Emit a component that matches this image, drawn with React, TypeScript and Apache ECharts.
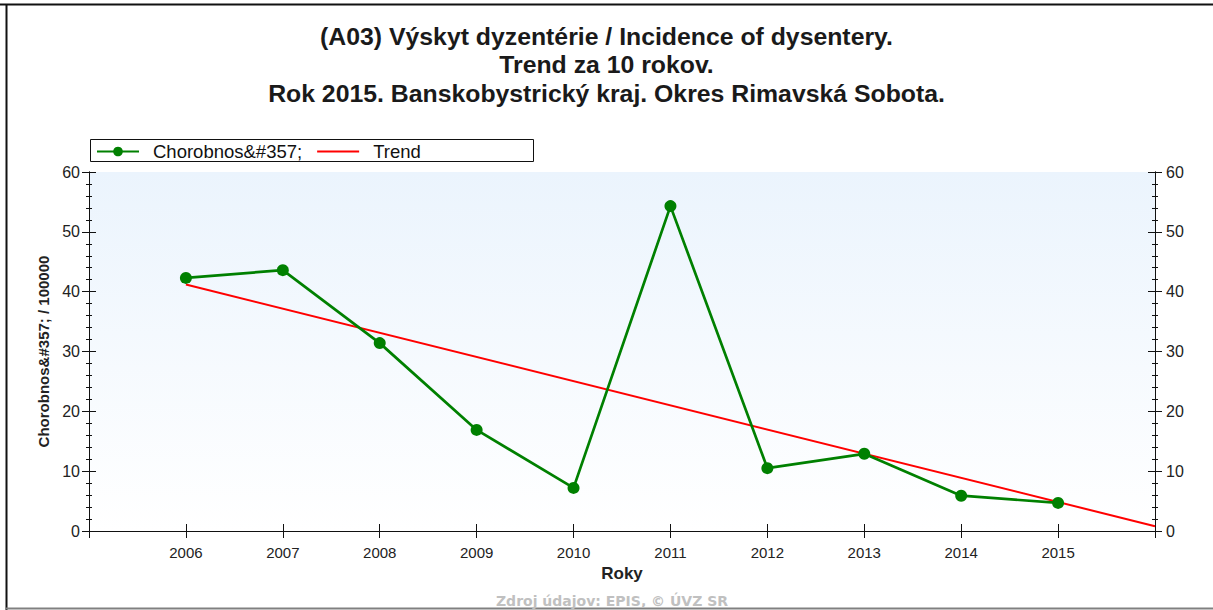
import React, { useEffect, useRef } from "react";
import * as echarts from "echarts";

const years = [2006, 2007, 2008, 2009, 2010, 2011, 2012, 2013, 2014, 2015];
const incidence = [42.3, 43.6, 31.4, 16.9, 7.2, 54.3, 10.5, 12.9, 5.9, 4.7];
const trendYears = [2006, 2016];
const trendValues = [41.2, 0.8];
const titleLines = [
  "(A03) Výskyt dyzentérie / Incidence of dysentery.",
  "Trend za 10 rokov.",
  "Rok 2015. Banskobystrický kraj. Okres Rimavská Sobota.",
];
const seriesName = "Chorobnos&#357;";
const trendName = "Trend";
const yAxisName = "Chorobnos&#357; / 100000";
const xAxisName = "Roky";
const footer = "Zdroj údajov: EPIS, © ÚVZ SR";

const FONT = "'Liberation Sans', Arial, sans-serif";

export default function App() {
  const ref = useRef<HTMLDivElement>(null);
  useEffect(() => {
    document.body.style.margin = "0";
    if (!ref.current) return;
    const chart = echarts.init(ref.current, null, { renderer: "svg" });
    const axisLine = { show: true, lineStyle: { color: "#111", width: 1 } };
    const xBase = {
      type: "value" as const,
      min: 2005,
      max: 2016,
      interval: 1,
      gridIndex: 0,
      splitLine: { show: false },
      axisLine,
    };
    const yBase = {
      type: "value" as const,
      min: 0,
      max: 60,
      interval: 10,
      splitLine: { show: false },
      minorSplitLine: { show: false },
      axisLine,
    };
    const lbl = { color: "#222", fontSize: 15, fontFamily: FONT };
    chart.setOption({
      animation: false,
      backgroundColor: "#ffffff",
      title: {
        text: titleLines.join("\n"),
        left: "center",
        top: 17,
        textStyle: {
          fontFamily: FONT,
          fontSize: 24.8,
          fontWeight: "bold",
          color: "#1a1a1a",
          lineHeight: 28.5,
        },
      },
      legend: {
        data: [
          { name: seriesName },
          { name: trendName, itemStyle: { color: "rgba(0,0,0,0)", borderWidth: 0 } },
        ],
        left: 96,
        top: 142,
        padding: 0,
        itemWidth: 42,
        itemHeight: 12,
        itemGap: 14,
        textStyle: { fontFamily: FONT, fontSize: 18.5, color: "#111", padding: [0, 0, 0, 9] },
      },
      grid: {
        left: 89,
        right: 58,
        top: 172,
        bottom: 79,
        show: true,
        borderWidth: 0,
        backgroundColor: {
          type: "linear",
          x: 0,
          y: 0,
          x2: 0,
          y2: 1,
          colorStops: [
            { offset: 0, color: "#ebf4fd" },
            { offset: 1, color: "#ffffff" },
          ],
        },
      },
      xAxis: [
        {
          ...xBase,
          position: "bottom",
          axisTick: { show: true, inside: false, length: 7, lineStyle: { color: "#111" } },
          axisLabel: {
            ...lbl,
            margin: 14,
            formatter: (v: number) => (years.indexOf(v) >= 0 ? String(v) : ""),
          },
          name: xAxisName,
          nameLocation: "middle",
          nameGap: 34,
          nameTextStyle: { fontFamily: FONT, fontSize: 17, fontWeight: "bold", color: "#222" },
        },
        {
          ...xBase,
          position: "bottom",
          axisTick: { show: true, inside: true, length: 7, lineStyle: { color: "#111" } },
          axisLabel: { show: false },
        },
        {
          ...xBase,
          position: "top",
          axisTick: { show: true, inside: true, length: 7, lineStyle: { color: "#111" } },
          axisLabel: { show: false },
        },
      ],
      yAxis: [
        {
          ...yBase,
          position: "left",
          axisTick: { show: true, inside: false, length: 7, lineStyle: { color: "#111" } },
          minorTick: { show: true, splitNumber: 5, length: 3, lineStyle: { color: "#111" } },
          axisLabel: { ...lbl, fontSize: 16, margin: 9 },
          name: yAxisName,
          nameLocation: "middle",
          nameGap: 37,
          nameRotate: 90,
          nameTextStyle: { fontFamily: FONT, fontSize: 15, fontWeight: "bold", color: "#222" },
        },
        {
          ...yBase,
          position: "left",
          axisTick: { show: true, inside: true, length: 7, lineStyle: { color: "#111" } },
          minorTick: { show: true, splitNumber: 5, length: 3, lineStyle: { color: "#111" } },
          axisLabel: { show: false },
        },
        {
          ...yBase,
          position: "right",
          axisTick: { show: true, inside: false, length: 7, lineStyle: { color: "#111" } },
          minorTick: { show: true, splitNumber: 5, length: 3, lineStyle: { color: "#111" } },
          axisLabel: { ...lbl, fontSize: 16, margin: 11 },
        },
        {
          ...yBase,
          position: "right",
          axisTick: { show: true, inside: true, length: 7, lineStyle: { color: "#111" } },
          minorTick: { show: true, splitNumber: 5, length: 3, lineStyle: { color: "#111" } },
          axisLabel: { show: false },
        },
      ],
      series: [
        {
          name: seriesName,
          type: "line",
          xAxisIndex: 0,
          yAxisIndex: 0,
          z: 3,
          data: years.map((y, i) => [y, incidence[i]]),
          symbol: "circle",
          symbolSize: 12,
          lineStyle: { color: "#008000", width: 2.7 },
          itemStyle: { color: "#008000" },
        },
        {
          name: trendName,
          type: "line",
          xAxisIndex: 0,
          yAxisIndex: 0,
          z: 2,
          data: trendYears.map((y, i) => [y, trendValues[i]]),
          symbol: "none",
          showSymbol: false,
          lineStyle: { color: "#ff0000", width: 2 },
          itemStyle: { color: "#ff0000" },
        },
      ],
      graphic: [
        {
          type: "rect",
          z: -1,
          shape: { x: 90.5, y: 139.5, width: 443, height: 22 },
          style: { fill: "#ffffff", stroke: "#111", lineWidth: 1 },
        },
        {
          type: "line",
          shape: { x1: 0, y1: 4.5, x2: 1213, y2: 4.5 },
          style: { stroke: "#111", lineWidth: 2 },
        },
        {
          type: "line",
          shape: { x1: 6.5, y1: 4, x2: 6.5, y2: 610 },
          style: { stroke: "#111", lineWidth: 2 },
        },
        {
          type: "line",
          shape: { x1: 6, y1: 608.5, x2: 1213, y2: 608.5 },
          style: { stroke: "#808080", lineWidth: 2 },
        },
        {
          type: "text",
          x: 612,
          y: 601,
          style: {
            text: footer,
            fontFamily: "'DejaVu Sans', Verdana, sans-serif",
            fontSize: 14,
            fontWeight: "bold",
            fill: "#c0c0c0",
            align: "center",
            verticalAlign: "middle",
          },
        },
      ],
    });
    return () => chart.dispose();
  }, []);
  return <div ref={ref} style={{ width: 1213, height: 610 }} />;
}
